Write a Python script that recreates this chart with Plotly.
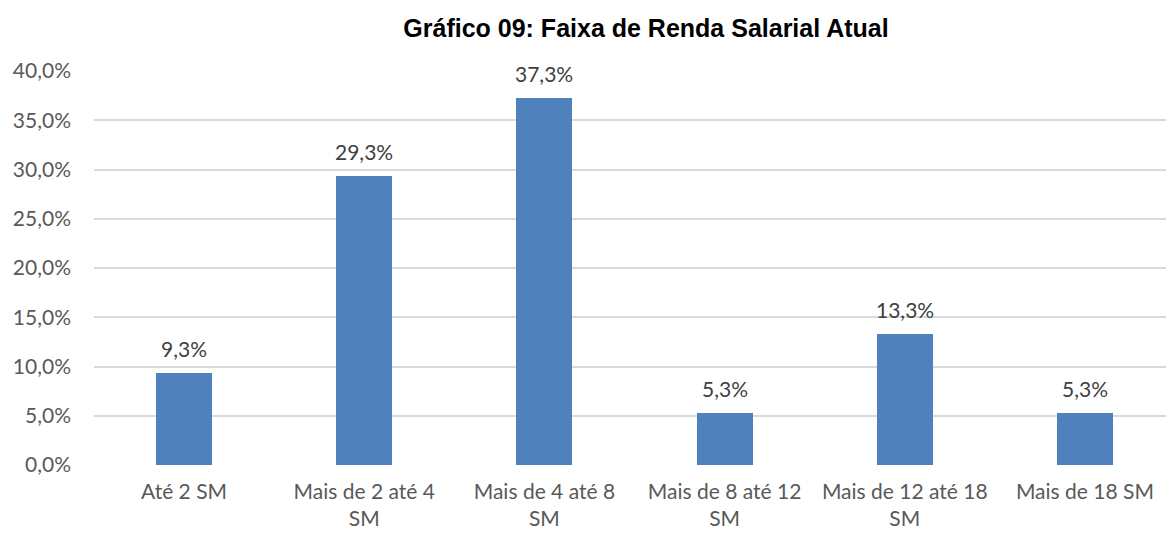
import plotly.graph_objects as go

categories = ["Até 2 SM", "Mais de 2 até 4<br>SM", "Mais de 4 até 8<br>SM",
              "Mais de 8 até 12<br>SM", "Mais de 12 até 18<br>SM", "Mais de 18 SM"]
values = [9.3, 29.3, 37.3, 5.3, 13.3, 5.3]
labels = ["9,3%", "29,3%", "37,3%", "5,3%", "13,3%", "5,3%"]
y_ticks = [0, 5, 10, 15, 20, 25, 30, 35, 40]
y_tick_text = ["0,0%", "5,0%", "10,0%", "15,0%", "20,0%", "25,0%", "30,0%", "35,0%", "40,0%"]

x_idx = list(range(len(categories)))

fig = go.Figure()
fig.add_trace(go.Bar(
    x=x_idx, y=values, width=0.31,
    marker=dict(color="#4F81BD", line=dict(width=0)),
    hoverinfo="skip",
))

for xi, v, lab in zip(x_idx, values, labels):
    fig.add_annotation(x=xi, y=v, text=lab, showarrow=False,
                       xanchor="center", yanchor="bottom", yshift=10,
                       font=dict(family="Lato", size=21, color="#404040"))

fig.update_layout(
    width=1166, height=533,
    margin=dict(l=94, r=0, t=71, b=68),
    paper_bgcolor="white", plot_bgcolor="white",
    showlegend=False,
    bargap=0,
    title=dict(text="<b>Gráfico 09: Faixa de Renda Salarial Atual</b>",
               x=646 / 1166, xanchor="center", y=1 - 28 / 533, yanchor="middle",
               font=dict(family="Liberation Sans", size=25, color="#000000")),
    xaxis=dict(range=[-0.5, 5.45], tickmode="array", tickvals=x_idx, ticktext=categories,
               showgrid=False, zeroline=False, showline=False, ticks="",
               ticklabelstandoff=12,
               tickfont=dict(family="Lato", size=21, color="#595959")),
    yaxis=dict(range=[0, 40], tickmode="array", tickvals=y_ticks, ticktext=y_tick_text,
               showgrid=True, gridcolor="#D9D9D9", gridwidth=1.5, zeroline=False,
               showline=False, ticks="", ticklabelstandoff=22,
               tickfont=dict(family="Lato", size=21, color="#595959")),
)

fig.write_html("out.html", config={"displayModeBar": False},
               post_script="document.body.style.margin='0';document.body.style.overflow='hidden';")
